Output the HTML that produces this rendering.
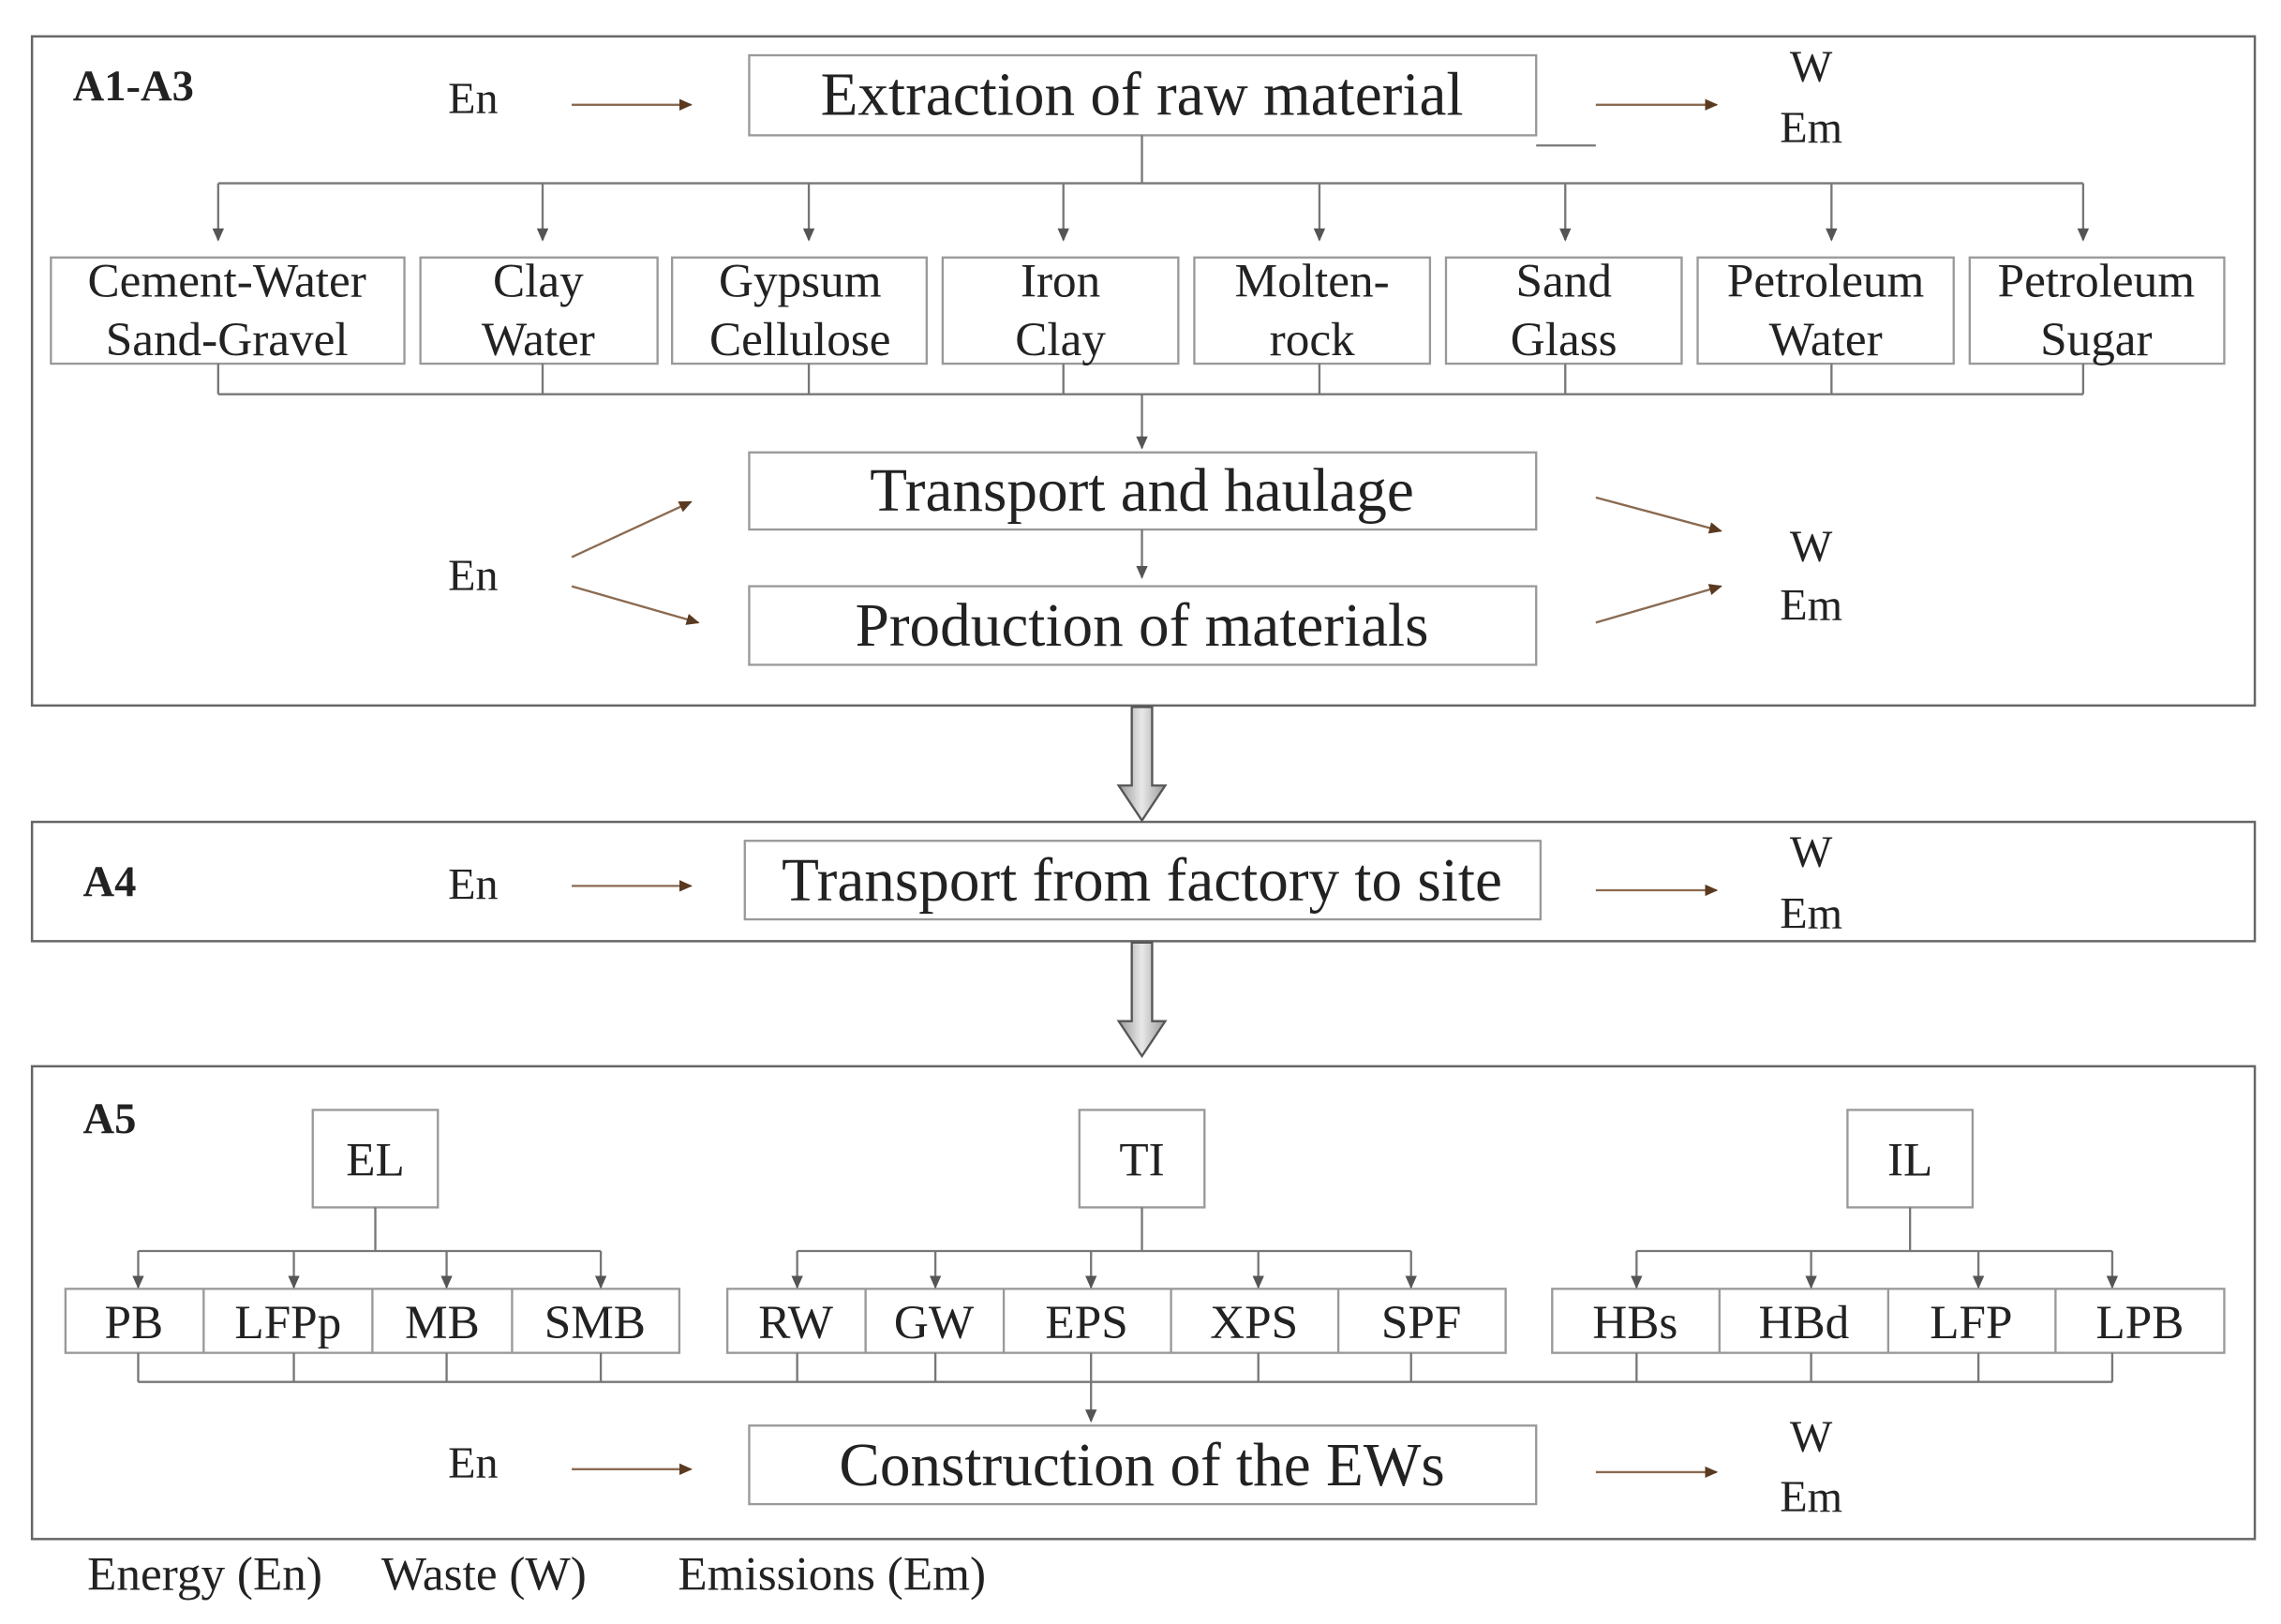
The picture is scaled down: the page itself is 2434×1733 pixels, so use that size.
<!DOCTYPE html>
<html><head><meta charset="utf-8"><style>
html,body{margin:0;padding:0;background:#fff;}
svg{display:block;}
text{font-family:"Liberation Serif",serif;fill:#222;}
</style></head><body>
<svg width="2434" height="1733" viewBox="0 0 1568 1116.4" xmlns="http://www.w3.org/2000/svg">
<defs>
<marker id="ag" markerWidth="10" markerHeight="10" refX="8" refY="5" orient="auto" markerUnits="userSpaceOnUse"><path d="M0,1 L9,5 L0,9 Z" fill="#555"/></marker>
<marker id="ab" markerWidth="10" markerHeight="10" refX="8" refY="5" orient="auto" markerUnits="userSpaceOnUse"><path d="M0,1 L9,5 L0,9 Z" fill="#5a3a20"/></marker>
<linearGradient id="gr" x1="0" x2="1"><stop offset="0" stop-color="#999"/><stop offset="0.5" stop-color="#e8e8e8"/><stop offset="1" stop-color="#999"/></linearGradient>
</defs>
<g fill="none" stroke="#666" stroke-width="1.6">
<rect x="22" y="25" width="1528" height="460"/>
<rect x="22" y="565" width="1528" height="82"/>
<rect x="22" y="733" width="1528" height="325"/>
</g>
<g fill="none" stroke="#999" stroke-width="1.5">
<rect x="515" y="38" width="541" height="55"/>
<rect x="515" y="311" width="541" height="53"/>
<rect x="515" y="403" width="541" height="54"/>
<rect x="512" y="578" width="547" height="54"/>
<rect x="515" y="980" width="541" height="54"/>
<rect x="35" y="177" width="243" height="73"/>
<rect x="289" y="177" width="163" height="73"/>
<rect x="462" y="177" width="175" height="73"/>
<rect x="648" y="177" width="162" height="73"/>
<rect x="821" y="177" width="162" height="73"/>
<rect x="994" y="177" width="162" height="73"/>
<rect x="1167" y="177" width="176" height="73"/>
<rect x="1354" y="177" width="175" height="73"/>
<rect x="215" y="763" width="86" height="67"/>
<rect x="742" y="763" width="86" height="67"/>
<rect x="1270" y="763" width="86" height="67"/>
<rect x="45" y="886" width="422" height="44"/>
<path d="M140,886V930M256,886V930M352,886V930"/>
<rect x="500" y="886" width="535" height="44"/>
<path d="M595,886V930M690,886V930M805,886V930M920,886V930"/>
<rect x="1067" y="886" width="462" height="44"/>
<path d="M1182,886V930M1298,886V930M1413,886V930"/>
</g>
<g fill="none" stroke="#777" stroke-width="1.5">
<path d="M785,93V126M150,126H1432"/>
<g marker-end="url(#ag)">
<path d="M150,126V165"/><path d="M373,126V165"/><path d="M556,126V165"/><path d="M731,126V165"/><path d="M907,126V165"/><path d="M1076,126V165"/><path d="M1259,126V165"/><path d="M1432,126V165"/>
<path d="M785,271V308"/><path d="M785,364V397"/>
<path d="M95,860V885"/><path d="M202,860V885"/><path d="M307,860V885"/><path d="M413,860V885"/>
<path d="M548,860V885"/><path d="M643,860V885"/><path d="M750,860V885"/><path d="M865,860V885"/><path d="M970,860V885"/>
<path d="M1125,860V885"/><path d="M1245,860V885"/><path d="M1360,860V885"/><path d="M1452,860V885"/>
<path d="M750,950V977"/>
</g>
<path d="M150,250V271M373,250V271M556,250V271M731,250V271M907,250V271M1076,250V271M1259,250V271M1432,250V271M150,271H1432"/>
<path d="M1056,100H1097"/>
<path d="M258,830V860M95,860H413M785,830V860M548,860H970M1313,830V860M1125,860H1452"/>
<path d="M95,930V950M202,930V950M307,930V950M413,930V950M548,930V950M643,930V950M750,930V950M865,930V950M970,930V950M1125,930V950M1245,930V950M1360,930V950M1452,930V950M95,950H1452"/>
</g>
<g fill="none" stroke="#8a6a50" stroke-width="1.5" marker-end="url(#ab)">
<path d="M393,72H475"/><path d="M1097,72H1180"/>
<path d="M393,383L475,345"/><path d="M393,403L480,428"/>
<path d="M1097,342L1183,365"/><path d="M1097,428L1183,403"/>
<path d="M393,609H475"/><path d="M1097,612H1180"/>
<path d="M393,1010H475"/><path d="M1097,1012H1180"/>
</g>
<g fill="url(#gr)" stroke="#555" stroke-width="1.5">
<path d="M778,486H792V540H801L785,564L769,540H778Z"/>
<path d="M778,648H792V702H801L785,726L769,702H778Z"/>
</g>
<g font-size="30">
<text x="50" y="69" font-weight="bold">A1-A3</text>
<text x="57" y="616" font-weight="bold">A4</text>
<text x="57" y="779" font-weight="bold">A5</text>
</g>
<g font-size="31">
<text x="308" y="78">En</text><text x="308" y="406">En</text><text x="308" y="618">En</text><text x="308" y="1016">En</text>
</g>
<g font-size="31" text-anchor="middle">
<text x="1245" y="56">W</text><text x="1245" y="98">Em</text>
<text x="1245" y="386">W</text><text x="1245" y="426">Em</text>
<text x="1245" y="596">W</text><text x="1245" y="638">Em</text>
<text x="1245" y="998">W</text><text x="1245" y="1039">Em</text>
</g>
<g font-size="42" text-anchor="middle">
<text x="785" y="79">Extraction of raw material</text>
<text x="785" y="351">Transport and haulage</text>
<text x="785" y="444">Production of materials</text>
<text x="785" y="619">Transport from factory to site</text>
<text x="785" y="1021">Construction of the EWs</text>
</g>
<g font-size="33" text-anchor="middle">
<text x="156" y="204">Cement-Water</text><text x="156" y="244">Sand-Gravel</text>
<text x="370" y="204">Clay</text><text x="370" y="244">Water</text>
<text x="550" y="204">Gypsum</text><text x="550" y="244">Cellulose</text>
<text x="729" y="204">Iron</text><text x="729" y="244">Clay</text>
<text x="902" y="204">Molten-</text><text x="902" y="244">rock</text>
<text x="1075" y="204">Sand</text><text x="1075" y="244">Glass</text>
<text x="1255" y="204">Petroleum</text><text x="1255" y="244">Water</text>
<text x="1441" y="204">Petroleum</text><text x="1441" y="244">Sugar</text>
<text x="258" y="808">EL</text><text x="785" y="808">TI</text><text x="1313" y="808">IL</text>
<text x="92" y="920">PB</text><text x="198" y="920">LFPp</text><text x="304" y="920">MB</text><text x="409" y="920">SMB</text>
<text x="547" y="920">RW</text><text x="642" y="920">GW</text><text x="747" y="920">EPS</text><text x="862" y="920">XPS</text><text x="977" y="920">SPF</text>
<text x="1124" y="920">HBs</text><text x="1240" y="920">HBd</text><text x="1355" y="920">LFP</text><text x="1471" y="920">LPB</text>
</g>
<g font-size="33">
<text x="60" y="1093">Energy (En)</text>
<text x="262" y="1093">Waste (W)</text>
<text x="466" y="1093">Emissions (Em)</text>
</g>
</svg>
</body></html>
